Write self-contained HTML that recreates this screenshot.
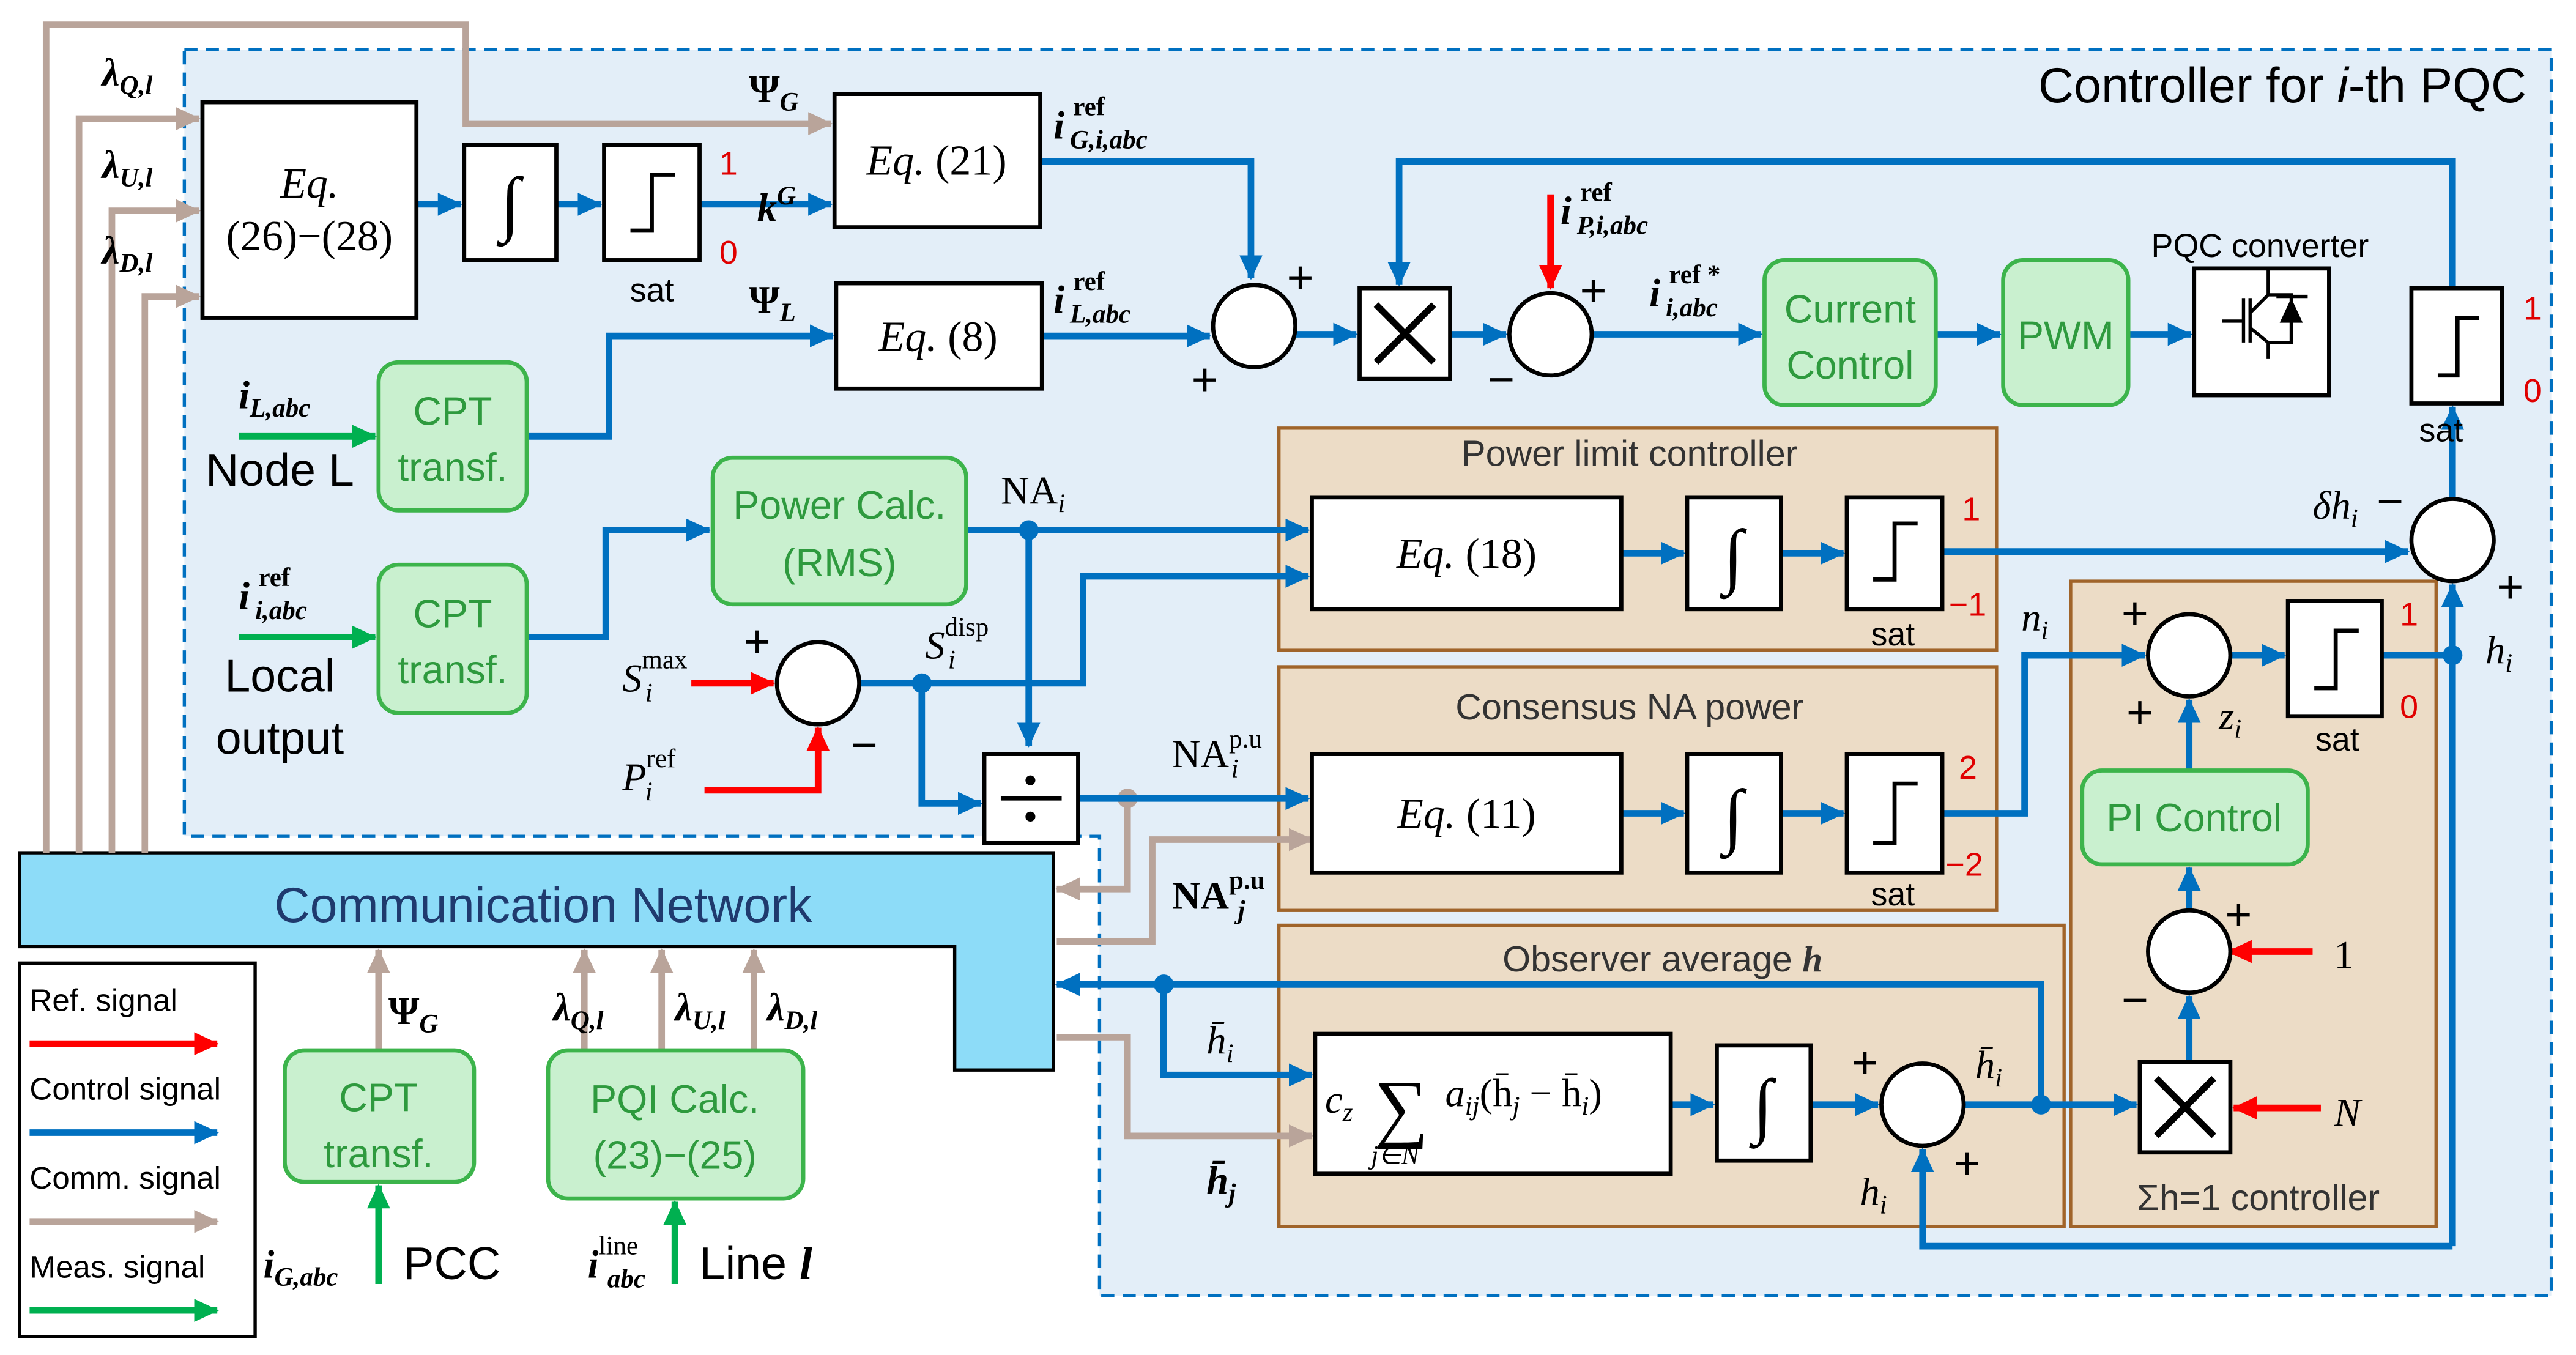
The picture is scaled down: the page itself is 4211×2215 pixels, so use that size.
<!DOCTYPE html>
<html><head><meta charset="utf-8"><style>
html,body{margin:0;padding:0;background:#fff}
svg{display:block}
.s{font-family:"Liberation Sans",sans-serif}
.m{font-family:"Liberation Serif",serif;font-style:italic}
.mb{font-family:"Liberation Serif",serif;font-weight:bold;font-style:italic}
.g{fill:#2e9a3e}
.r{fill:#e00000}
</style></head><body>
<svg width="4211" height="2215" viewBox="0 0 1565 823" xmlns="http://www.w3.org/2000/svg">
<defs>
<marker id="ab" markerUnits="userSpaceOnUse" markerWidth="16" markerHeight="16" refX="14" refY="8" orient="auto"><path d="M0,1 L15,8 L0,15z" fill="#0070c0"/></marker>
<marker id="ag" markerUnits="userSpaceOnUse" markerWidth="16" markerHeight="16" refX="14" refY="8" orient="auto"><path d="M0,1 L15,8 L0,15z" fill="#b9a49a"/></marker>
<marker id="ar" markerUnits="userSpaceOnUse" markerWidth="16" markerHeight="16" refX="14" refY="8" orient="auto"><path d="M0,1 L15,8 L0,15z" fill="#ff0000"/></marker>
<marker id="an" markerUnits="userSpaceOnUse" markerWidth="16" markerHeight="16" refX="14" refY="8" orient="auto"><path d="M0,1 L15,8 L0,15z" fill="#00b050"/></marker>
</defs>
<path d="M112,30 H1550 V787 H668 V508 H112 Z" fill="#e3eef8" stroke="#0070c0" stroke-width="2" stroke-dasharray="8,5"/>
<text x="1535" y="62" text-anchor="end" class="s" font-size="30">Controller for <tspan font-style="italic">i</tspan>-th PQC</text>

<g fill="#ecdcc6" stroke="#a0642a" stroke-width="2">
<rect x="777" y="260" width="436" height="135"/>
<rect x="777" y="405" width="436" height="148"/>
<rect x="777" y="562" width="477" height="183"/>
<rect x="1258" y="353" width="222" height="392"/>
</g>
<g class="s" font-size="22" fill="#333" text-anchor="middle">
<text x="990" y="283">Power limit controller</text>
<text x="990" y="437">Consensus NA power</text>
<text x="1010" y="590">Observer average <tspan class="mb">h</tspan></text>
<text x="1372" y="735">Σh=1 controller</text>
</g>

<path d="M12,518 H640 V650 H580 V575 H12 Z" fill="#8ddcf8" stroke="#000" stroke-width="2"/>
<text x="330" y="560" text-anchor="middle" class="s" font-size="30" fill="#1f3a6e">Communication Network</text>

<g stroke="#b9a49a" stroke-width="4" fill="none">
<path d="M28,518 V15 H283 V75 H505" marker-end="url(#ag)"/>
<path d="M48,518 V72 H121" marker-end="url(#ag)"/>
<path d="M68,518 V128 H121" marker-end="url(#ag)"/>
<path d="M88,518 V180 H121" marker-end="url(#ag)"/>
<path d="M685,485 V540 H642" marker-end="url(#ag)"/>
<path d="M642,572 H700 V510 H797" marker-end="url(#ag)"/>
<path d="M642,630 H685 V690 H797" marker-end="url(#ag)"/>
<path d="M230,638 V577" marker-end="url(#ag)"/>
<path d="M355,638 V577" marker-end="url(#ag)"/>
<path d="M402,638 V577" marker-end="url(#ag)"/>
<path d="M458,638 V577" marker-end="url(#ag)"/>
</g>
<circle cx="685" cy="485" r="6" fill="#b9a49a"/>

<g stroke="#0070c0" stroke-width="4" fill="none">
<path d="M253,124 H280" marker-end="url(#ab)"/>
<path d="M338,124 H365" marker-end="url(#ab)"/>
<path d="M425,124 H505" marker-end="url(#ab)"/>
<path d="M320,265 H370 V204 H506" marker-end="url(#ab)"/>
<path d="M632,98 H760 V169" marker-end="url(#ab)"/>
<path d="M633,204 H735" marker-end="url(#ab)"/>
<path d="M787,203 H824" marker-end="url(#ab)"/>
<path d="M1490,175 V98 H850 V173" marker-end="url(#ab)"/>
<path d="M881,203 H915" marker-end="url(#ab)"/>
<path d="M967,203 H1070" marker-end="url(#ab)"/>
<path d="M1176,203 H1215" marker-end="url(#ab)"/>
<path d="M1293,203 H1331" marker-end="url(#ab)"/>
<path d="M1490,303 V247" marker-end="url(#ab)"/>
<path d="M1180,335 H1463" marker-end="url(#ab)"/>
<path d="M1490,757 V355" marker-end="url(#ab)"/>
<path d="M320,387 H368 V322 H431" marker-end="url(#ab)"/>
<path d="M587,322 H795" marker-end="url(#ab)"/>
<path d="M625,322 V453" marker-end="url(#ab)"/>
<path d="M522,415 H658 V350 H795" marker-end="url(#ab)"/>
<path d="M560,415 V488 H596" marker-end="url(#ab)"/>
<path d="M655,485 H795" marker-end="url(#ab)"/>
<path d="M985,336 H1023" marker-end="url(#ab)"/>
<path d="M1082,336 H1120" marker-end="url(#ab)"/>
<path d="M985,494 H1023" marker-end="url(#ab)"/>
<path d="M1082,494 H1120" marker-end="url(#ab)"/>
<path d="M1180,494 H1230 V398 H1303" marker-end="url(#ab)"/>
<path d="M1355,398 H1388" marker-end="url(#ab)"/>
<path d="M1447,398 H1490"/>
<path d="M1330,468 V425" marker-end="url(#ab)"/>
<path d="M1330,553 V527" marker-end="url(#ab)"/>
<path d="M1330,645 V605" marker-end="url(#ab)"/>
<path d="M1015,671 H1041" marker-end="url(#ab)"/>
<path d="M1100,671 H1141" marker-end="url(#ab)"/>
<path d="M1193,671 H1298" marker-end="url(#ab)"/>
<path d="M1240,671 V598 H642" marker-end="url(#ab)"/>
<path d="M707,598 V653 H797" marker-end="url(#ab)"/>
<path d="M1490,757 H1168 V698" marker-end="url(#ab)"/>
</g>
<g fill="#0070c0">
<circle cx="625" cy="322" r="6"/><circle cx="560" cy="415" r="6"/><circle cx="1490" cy="398" r="6"/>
<circle cx="1240" cy="671" r="6"/><circle cx="707" cy="598" r="6"/>
</g>

<g stroke="#ff0000" stroke-width="4" fill="none">
<path d="M942,118 V175" marker-end="url(#ar)"/>
<path d="M420,415 H470" marker-end="url(#ar)"/>
<path d="M428,480 H497 V442" marker-end="url(#ar)"/>
<path d="M1405,578 H1354" marker-end="url(#ar)"/>
<path d="M1410,673 H1357" marker-end="url(#ar)"/>
</g>
<g stroke="#00b050" stroke-width="4" fill="none">
<path d="M145,265 H228" marker-end="url(#an)"/>
<path d="M145,387 H228" marker-end="url(#an)"/>
<path d="M230,780 V720" marker-end="url(#an)"/>
<path d="M410,780 V730" marker-end="url(#an)"/>
</g>

<g fill="#fff" stroke="#000" stroke-width="2.5">
<rect x="123" y="62" width="130" height="131"/>
<rect x="282" y="88" width="56" height="70"/>
<rect x="367" y="88" width="58" height="70"/>
<rect x="507" y="57" width="125" height="81"/>
<rect x="508" y="172" width="125" height="64"/>
<rect x="826" y="175" width="55" height="55"/>
<rect x="1333" y="163" width="82" height="77"/>
<rect x="1465" y="175" width="55" height="70"/>
<rect x="797" y="302" width="188" height="68"/>
<rect x="1025" y="302" width="57" height="68"/>
<rect x="1122" y="302" width="58" height="68"/>
<rect x="598" y="458" width="57" height="54"/>
<rect x="797" y="458" width="188" height="72"/>
<rect x="1025" y="458" width="57" height="72"/>
<rect x="1122" y="458" width="58" height="72"/>
<rect x="1390" y="365" width="57" height="70"/>
<rect x="1300" y="645" width="55" height="55"/>
<rect x="799" y="628" width="216" height="85"/>
<rect x="1043" y="635" width="57" height="70"/>
<circle cx="762" cy="198" r="25"/>
<circle cx="942" cy="203" r="25"/>
<circle cx="1490" cy="328" r="25"/>
<circle cx="497" cy="415" r="25"/>
<circle cx="1330" cy="398" r="25"/>
<circle cx="1330" cy="578" r="25"/>
<circle cx="1168" cy="671" r="25"/>
</g>
<g fill="#c9f0cf" stroke="#3cb44b" stroke-width="2.5">
<rect x="230" y="220" width="90" height="90" rx="12"/>
<rect x="230" y="343" width="90" height="90" rx="12"/>
<rect x="433" y="278" width="154" height="89" rx="12"/>
<rect x="1072" y="158" width="104" height="88" rx="12"/>
<rect x="1217" y="158" width="76" height="88" rx="12"/>
<rect x="1265" y="468" width="137" height="57" rx="12"/>
<rect x="173" y="638" width="115" height="80" rx="12"/>
<rect x="333" y="638" width="155" height="90" rx="12"/>
</g>
<g class="s g" font-size="24" text-anchor="middle">
<text x="275" y="258">CPT</text><text x="275" y="292">transf.</text>
<text x="275" y="381">CPT</text><text x="275" y="415">transf.</text>
<text x="510" y="315">Power Calc.</text><text x="510" y="350">(RMS)</text>
<text x="1124" y="196">Current</text><text x="1124" y="230">Control</text>
<text x="1255" y="212">PWM</text>
<text x="1333" y="505">PI Control</text>
<text x="230" y="675">CPT</text><text x="230" y="709">transf.</text>
<text x="410" y="676">PQI Calc.</text><text x="410" y="710">(23)−(25)</text>
</g>

<g font-family="Liberation Serif,serif" font-size="44" text-anchor="middle">
<text x="310" y="138">∫</text><text x="1053" y="352">∫</text><text x="1053" y="510">∫</text><text x="1071" y="686">∫</text>
</g>
<g stroke="#000" stroke-width="2.5" fill="none">
<path d="M383,140 H396 V106 H410"/>
<path d="M1481,228 H1493 V193 H1506"/>
<path d="M1138,352 H1151 V318 H1165"/>
<path d="M1138,512 H1151 V476 H1165"/>
<path d="M1406,418 H1419 V383 H1433"/>
<path d="M836,185 L871,220 M871,185 L836,220" stroke-width="4"/>
<path d="M1310,655 L1345,690 M1345,655 L1310,690" stroke-width="4"/>
<path d="M608,485 H645"/>
</g>
<circle cx="626" cy="474" r="3"/><circle cx="626" cy="496" r="3"/>
<g stroke="#000" stroke-width="2" fill="none">
<path d="M1350,195 H1363 M1363,181 V208 M1367,181 V208 M1367,190 L1378,179 V164 M1378,179 H1392 V208 H1378 M1367,199 L1378,208 V218 M1383,180 H1402"/>
</g>
<path d="M1392,181 L1399,196 H1385 Z" fill="#000"/>

<g class="s" font-size="20" text-anchor="middle">
<text x="396" y="183">sat</text><text x="1483" y="268">sat</text><text x="1150" y="392">sat</text><text x="1150" y="550">sat</text><text x="1420" y="456">sat</text>
<text x="1373" y="156">PQC converter</text>
</g>
<g class="s r" font-size="20">
<text x="437" y="106">1</text><text x="437" y="160">0</text>
<text x="1533" y="194">1</text><text x="1533" y="244">0</text>
<text x="1192" y="316">1</text><text x="1184" y="374">−1</text>
<text x="1190" y="473">2</text><text x="1182" y="532">−2</text>
<text x="1458" y="380">1</text><text x="1458" y="436">0</text>
</g>

<g font-family="Liberation Serif,serif" font-size="26" text-anchor="middle">
<text x="188" y="120"><tspan font-style="italic">Eq.</tspan></text><text x="188" y="152">(26)−(28)</text>
<text x="569" y="106"><tspan font-style="italic">Eq.</tspan> (21)</text>
<text x="570" y="213"><tspan font-style="italic">Eq.</tspan> (8)</text>
<text x="891" y="345"><tspan font-style="italic">Eq.</tspan> (18)</text>
<text x="891" y="503"><tspan font-style="italic">Eq.</tspan> (11)</text>
</g>
<g font-family="Liberation Serif,serif" font-size="24" font-style="italic">
<text x="805" y="676">c<tspan font-size="16" dy="5">z</tspan></text>
<text x="835" y="688" font-size="46" font-style="normal">∑</text>
<text x="833" y="707" font-size="16">j∈N</text>
<text x="878" y="672">a<tspan font-size="16" dy="5">ij</tspan><tspan dy="-5" font-style="normal">(h̄</tspan><tspan font-size="16" dy="5">j</tspan><tspan dy="-5" font-style="normal"> − h̄</tspan><tspan font-size="16" dy="5">i</tspan><tspan dy="-5" font-style="normal">)</tspan></text>
</g>

<g font-family="Liberation Serif,serif" font-size="24">
<text x="62" y="52" class="mb">λ<tspan font-size="16" dy="5">Q,l</tspan></text>
<text x="62" y="108" class="mb">λ<tspan font-size="16" dy="5">U,l</tspan></text>
<text x="62" y="160" class="mb">λ<tspan font-size="16" dy="5">D,l</tspan></text>
<text x="455" y="62" font-weight="bold">Ψ<tspan font-size="16" dy="5" font-style="italic">G</tspan></text>
<text x="460" y="134" class="mb">k<tspan font-size="16" dy="-10">G</tspan></text>
<text x="455" y="190" font-weight="bold">Ψ<tspan font-size="16" dy="5" font-style="italic">L</tspan></text>
<text x="640" y="84" class="mb">i<tspan font-size="16" dy="-14" x="652" font-style="normal" font-weight="bold">ref</tspan><tspan font-size="16" dy="20" x="650">G,i,abc</tspan></text>
<text x="640" y="190" class="mb">i<tspan font-size="16" dy="-14" x="652" font-style="normal" font-weight="bold">ref</tspan><tspan font-size="16" dy="20" x="650">L,abc</tspan></text>
<text x="948" y="136" class="mb">i<tspan font-size="16" dy="-14" x="960" font-style="normal" font-weight="bold">ref</tspan><tspan font-size="16" dy="20" x="958">P,i,abc</tspan></text>
<text x="1002" y="186" class="mb">i<tspan font-size="16" dy="-14" x="1014" font-style="normal" font-weight="bold">ref *</tspan><tspan font-size="16" dy="20" x="1012">i,abc</tspan></text>
<text x="145" y="248" class="mb">i<tspan font-size="16" dy="5">L,abc</tspan></text>
<text x="145" y="370" class="mb">i<tspan font-size="16" dy="-14" x="157" font-style="normal" font-weight="bold">ref</tspan><tspan font-size="16" dy="20" x="155">i,abc</tspan></text>
<text x="608" y="306">NA<tspan font-style="italic" font-size="16" dy="5">i</tspan></text>
<text x="378" y="420" font-style="italic">S<tspan font-size="16" dy="-14" font-style="normal">max</tspan><tspan font-size="16" dy="20" x="392">i</tspan></text>
<text x="378" y="480" font-style="italic">P<tspan font-size="16" dy="-14" font-style="normal">ref</tspan><tspan font-size="16" dy="20" x="392">i</tspan></text>
<text x="562" y="400" font-style="italic">S<tspan font-size="16" dy="-14" font-style="normal">disp</tspan><tspan font-size="16" dy="20" x="576">i</tspan></text>
<text x="712" y="466">NA<tspan font-size="16" dy="-12">p.u</tspan><tspan font-size="16" dy="18" x="748" font-style="italic">i</tspan></text>
<text x="712" y="552" font-weight="bold">NA<tspan font-size="16" dy="-12">p.u</tspan><tspan font-size="16" dy="18" x="752" font-style="italic">j</tspan></text>
<text x="733" y="640" font-style="italic">h̄<tspan font-size="16" dy="5">i</tspan></text>
<text x="733" y="725" class="mb">h̄<tspan font-size="16" dy="5">j</tspan></text>
<text x="1200" y="655" font-style="italic">h̄<tspan font-size="16" dy="5">i</tspan></text>
<text x="1130" y="732" font-style="italic">h<tspan font-size="16" dy="5">i</tspan></text>
<text x="1405" y="315" font-style="italic">δh<tspan font-size="16" dy="5">i</tspan></text>
<text x="1510" y="403" font-style="italic">h<tspan font-size="16" dy="5">i</tspan></text>
<text x="1228" y="383" font-style="italic">n<tspan font-size="16" dy="5">i</tspan></text>
<text x="1348" y="443" font-style="italic">z<tspan font-size="16" dy="5">i</tspan></text>
<text x="1418" y="588">1</text>
<text x="1418" y="684" font-style="italic">N</text>
<text x="236" y="622" font-weight="bold">Ψ<tspan font-size="16" dy="5" font-style="italic">G</tspan></text>
<text x="336" y="620" class="mb">λ<tspan font-size="16" dy="5">Q,l</tspan></text>
<text x="410" y="620" class="mb">λ<tspan font-size="16" dy="5">U,l</tspan></text>
<text x="466" y="620" class="mb">λ<tspan font-size="16" dy="5">D,l</tspan></text>
<text x="160" y="776" class="mb">i<tspan font-size="16" dy="5">G,abc</tspan></text>
<text x="357" y="776" class="mb">i<tspan font-size="16" dy="-14" font-style="normal" font-weight="normal">line</tspan><tspan font-size="16" dy="20" x="369">abc</tspan></text>
</g>
<g class="s" font-size="28">
<text x="170" y="295" text-anchor="middle">Node L</text>
<text x="170" y="420" text-anchor="middle">Local</text>
<text x="170" y="458" text-anchor="middle">output</text>
<text x="245" y="777">PCC</text>
<text x="425" y="777">Line <tspan class="mb">l</tspan></text>
</g>
<g class="s" font-size="28" text-anchor="middle">
<text x="790" y="178">+</text><text x="732" y="240">+</text>
<text x="968" y="186">+</text><text x="912" y="240">−</text>
<text x="1452" y="314">−</text><text x="1525" y="366">+</text>
<text x="460" y="399">+</text><text x="525" y="462">−</text>
<text x="1297" y="382">+</text><text x="1300" y="442">+</text>
<text x="1360" y="565">+</text><text x="1297" y="617">−</text>
<text x="1133" y="655">+</text><text x="1195" y="716">+</text>
</g>

<rect x="12" y="585" width="143" height="227" fill="#fff" stroke="#000" stroke-width="2"/>
<g class="s" font-size="19">
<text x="18" y="614">Ref. signal</text>
<text x="18" y="668">Control signal</text>
<text x="18" y="722">Comm. signal</text>
<text x="18" y="776">Meas. signal</text>
</g>
<path d="M18,634 H132" stroke="#ff0000" stroke-width="4" marker-end="url(#ar)"/>
<path d="M18,688 H132" stroke="#0070c0" stroke-width="4" marker-end="url(#ab)"/>
<path d="M18,742 H132" stroke="#b9a49a" stroke-width="4" marker-end="url(#ag)"/>
<path d="M18,796 H132" stroke="#00b050" stroke-width="4" marker-end="url(#an)"/>
</svg>
</body></html>
